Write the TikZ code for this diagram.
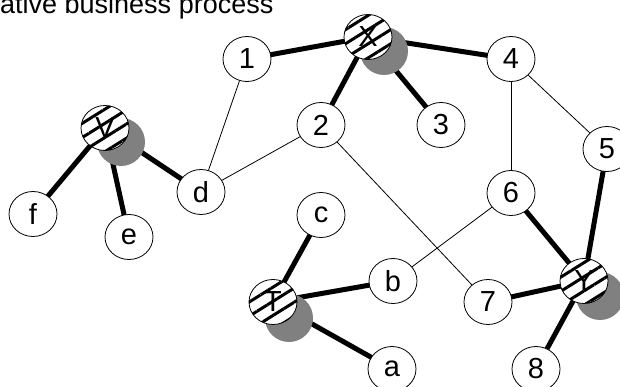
\documentclass[tikz,border=0pt]{standalone}
\usepackage{fontspec}
\setmainfont{Liberation Sans}
\usetikzlibrary{shapes.geometric,patterns.meta,backgrounds}
\begin{document}
\begin{tikzpicture}[x=1pt,y=-1pt,
  every node/.style={font=\fontsize{29}{29}\selectfont},
  plain/.style={ellipse,draw=black,line width=0.8pt,fill=white,minimum width=48pt,minimum height=45pt,inner sep=0pt},
  hatch/.style={ellipse,draw=black,line width=0.8pt,minimum width=48pt,minimum height=45pt,inner sep=0pt,
     preaction={fill=white},pattern={Lines[angle=32,distance=12pt,line width=3pt]}},
  shade/.style={circle,fill=black!50,draw=none,minimum size=48pt,inner sep=0pt},
  heavy/.style={line width=5pt},
  light/.style={line width=0.8pt}]
\useasboundingbox (0,0) rectangle (620,387);
\node[anchor=base west,inner sep=0pt,font=\fontsize{27}{27}\selectfont] (title) at (0,14) {ative business process};
% shadow discs
\node[shade] (gX) at (384,51) {};
\node[shade] (gV) at (121,142) {};
\node[shade] (gT) at (289,318) {};
\node[shade] (gY) at (600,296) {};
% hatched nodes
\node[hatch] (nX) at (368,37) {X};
\node[hatch] (nV) at (105,128) {V};
\node[hatch] (nT) at (273,302) {T};
\node[hatch] (nY) at (584,281) {Y};
% plain nodes
\node[plain] (p1) at (247,59) {1};
\node[plain] (p2) at (321,125) {2};
\node[plain] (p3) at (441,125) {3};
\node[plain] (p4) at (511,59) {4};
\node[plain] (p5) at (607,149) {5};
\node[plain] (p6) at (511,193) {6};
\node[plain] (p7) at (488,302) {7};
\node[plain] (p8) at (536,369) {8};
\node[plain] (pa) at (392,369) {a};
\node[plain] (pb) at (393,281) {b};
\node[plain] (pc) at (321,215) {c};
\node[plain] (pd) at (201,192) {d};
\node[plain] (pe) at (129,237) {e};
\node[plain] (pf) at (33,214) {f};
\begin{scope}[on background layer]
  \draw[heavy] (p1.center) -- (nX.center);
  \draw[heavy] (nX.center) -- (p4.center);
  \draw[heavy] (nX.center) -- (p2.center);
  \draw[heavy] (nX.center) -- (p3.center);
  \draw[heavy] (nV.center) -- (pf.center);
  \draw[heavy] (nV.center) -- (pe.center);
  \draw[heavy] (nV.center) -- (pd.center);
  \draw[heavy] (nT.center) -- (pc.center);
  \draw[heavy] (nT.center) -- (pb.center);
  \draw[heavy] (nT.center) -- (pa.center);
  \draw[heavy] (nY.center) -- (p6.center);
  \draw[heavy] (nY.center) -- (p5.center);
  \draw[heavy] (nY.center) -- (p7.center);
  \draw[heavy] (nY.center) -- (p8.center);
  \draw[light] (p1) -- (pd);
  \draw[light] (p2) -- (pd);
  \draw[light] (p2) -- (p7);
  \draw[light] (p4) -- (p6);
  \draw[light] (p4) -- (p5);
  \draw[light] (p6) -- (pb);
\end{scope}
\end{tikzpicture}
\end{document}
